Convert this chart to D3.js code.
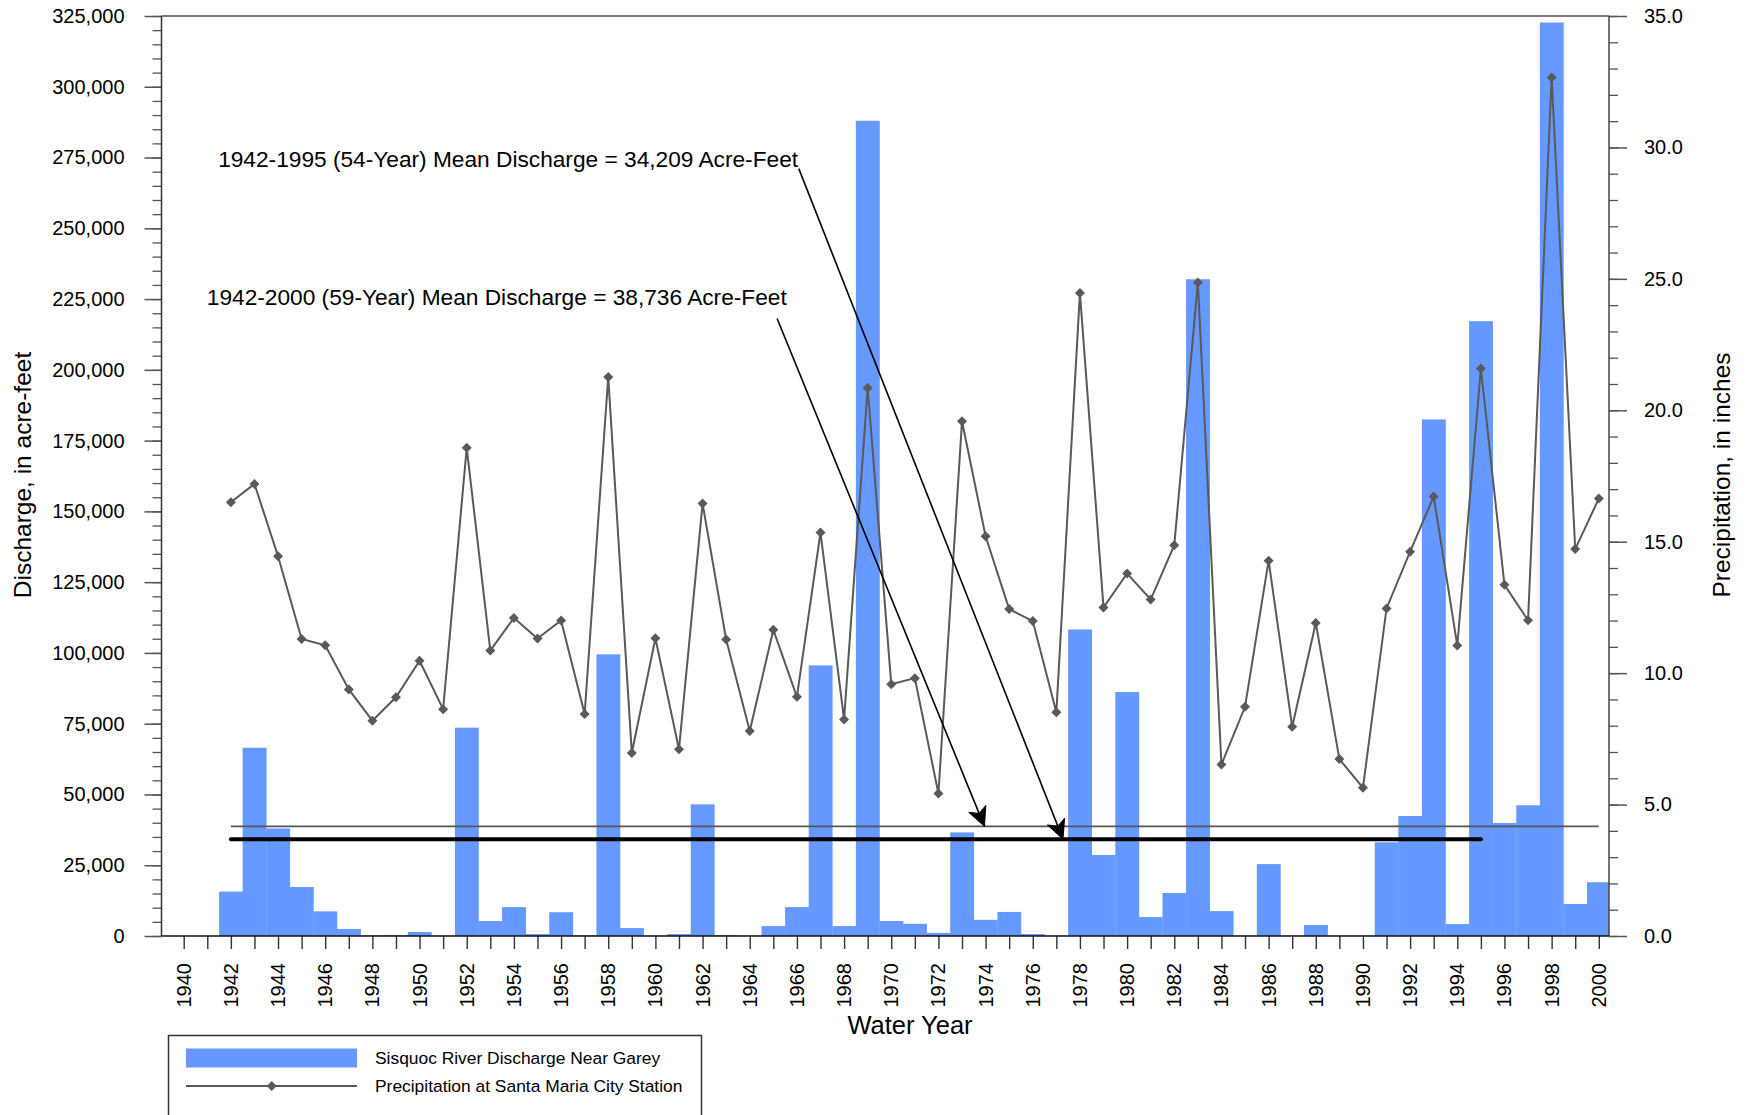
<!DOCTYPE html>
<html><head><meta charset="utf-8">
<script src="https://cdn.jsdelivr.net/npm/d3@7"></script>
<style>
body{margin:0;background:#fff}
svg{display:block}
text{font-family:"Liberation Sans",Arial,sans-serif;fill:#000}
</style>
</head><body>
<svg id="chart" width="1747" height="1115"></svg>
<script>
// ---------------- DATA ----------------
const years = [1942,1943,1944,1945,1946,1947,1948,1949,1950,1951,1952,1953,1954,1955,1956,1957,1958,1959,1960,1961,
  1962,1963,1964,1965,1966,1967,1968,1969,1970,1971,1972,1973,1974,1975,1976,1977,1978,1979,1980,1981,
  1982,1983,1984,1985,1986,1987,1988,1989,1990,1991,1992,1993,1994,1995,1996,1997,1998,1999,2000];
// Sisquoc River discharge near Garey (acre-feet)
const discharge = [15700,66500,38000,17300,8700,2500,200,300,1400,100,73600,5300,10200,700,8400,200,99500,2800,100,700,
  46500,300,100,3500,10200,95600,3500,288000,5300,4300,1100,36600,5700,8500,700,100,108300,28600,86200,6700,
  15200,232000,8800,100,25400,100,3900,100,100,33100,42400,182500,4200,217200,39900,46200,322700,11300,19000];
// Precipitation at Santa Maria City station (inches)
const precipitation = [16.5,17.2,14.45,11.3,11.06,9.38,8.19,9.08,10.47,8.63,18.57,10.86,12.1,11.32,12.0,8.45,21.27,6.96,11.33,7.1,
  16.45,11.28,7.8,11.65,9.1,15.35,8.24,20.85,9.58,9.81,5.42,19.58,15.21,12.44,11.98,8.51,24.46,12.5,13.79,12.8,
  14.87,24.86,6.52,8.72,14.28,7.96,11.91,6.73,5.64,12.46,14.62,16.72,11.05,21.59,13.36,12.01,32.66,14.72,16.64];
const yearTickValues = [1940,1941,1942,1943,1944,1945,1946,1947,1948,1949,1950,1951,1952,1953,1954,1955,1956,1957,1958,1959,
  1960,1961,1962,1963,1964,1965,1966,1967,1968,1969,1970,1971,1972,1973,1974,1975,1976,1977,1978,1979,
  1980,1981,1982,1983,1984,1985,1986,1987,1988,1989,1990,1991,1992,1993,1994,1995,1996,1997,1998,1999,2000];
const yearLabels = [1940,1942,1944,1946,1948,1950,1952,1954,1956,1958,1960,1962,1964,1966,1968,1970,1972,1974,1976,1978,
  1980,1982,1984,1986,1988,1990,1992,1994,1996,1998,2000];
const dischargeTicks = [0,25000,50000,75000,100000,125000,150000,175000,200000,225000,250000,275000,300000,325000];
const precipTicks = [0,5,10,15,20,25,30,35];
const meanLong = {value:38736, from:1942, to:2000};
const meanShort = {value:34209, from:1942, to:1995};
const annotationTexts = ["1942-1995 (54-Year) Mean Discharge = 34,209 Acre-Feet",
                         "1942-2000 (59-Year) Mean Discharge = 38,736 Acre-Feet"];
const legendLabels = ["Sisquoc River Discharge Near Garey","Precipitation at Santa Maria City Station"];

// ---------------- LAYOUT ----------------
const svg = d3.select("#chart");
const L = 161.5, R = 1609, T = 16, B = 936;
const x = d3.scaleLinear().domain([1940, 2000]).range([183.7, 1598.8]);
const yL = d3.scaleLinear().domain([0, 325000]).range([B, T]);
const yR = d3.scaleLinear().domain([0, 35]).range([B, T]);
const barColor = "#6699ff", lineColor = "#595959";

svg.append("defs").append("clipPath").attr("id","plotclip")
  .append("rect").attr("x",L).attr("y",T).attr("width",R-L).attr("height",B-T);

// bars
svg.append("g").attr("clip-path","url(#plotclip)")
  .selectAll("rect").data(years).join("rect")
  .attr("x", d => x(d - 0.5))
  .attr("width", d => x(d + 0.5) - x(d - 0.5) + 0.3)
  .attr("y", (d,i) => yL(discharge[i]))
  .attr("height", (d,i) => B - yL(discharge[i]))
  .attr("fill", barColor);

// mean lines
svg.append("line")
  .attr("x1", x(meanLong.from)).attr("x2", x(meanLong.to))
  .attr("y1", yL(meanLong.value)).attr("y2", yL(meanLong.value))
  .attr("stroke", "#555").attr("stroke-width", 1.6);
svg.append("line")
  .attr("x1", x(meanShort.from)).attr("x2", x(meanShort.to))
  .attr("y1", yL(meanShort.value)).attr("y2", yL(meanShort.value))
  .attr("stroke", "#000").attr("stroke-width", 4).attr("stroke-linecap","round");

// precipitation line
const line = d3.line().x((d,i) => x(years[i])).y(d => yR(d));
svg.append("path").datum(precipitation)
  .attr("d", line).attr("fill","none")
  .attr("stroke", lineColor).attr("stroke-width", 2);
const diamond = d3.symbol().type(d3.symbolSquare).size(50);
svg.append("g").selectAll("path").data(precipitation).join("path")
  .attr("d", diamond)
  .attr("transform", (d,i) => `translate(${x(years[i])},${yR(d)}) rotate(45)`)
  .attr("fill", lineColor);

// frame top
svg.append("line").attr("x1",L).attr("x2",R).attr("y1",T).attr("y2",T)
  .attr("stroke","#7a7a7a").attr("stroke-width",2);

// left axis
const gl = svg.append("g").attr("transform",`translate(${L},0)`);
gl.call(d3.axisLeft(yL).tickValues(d3.range(0, 325001, 5000)).tickSize(9).tickFormat(""));
gl.call(g => g.selectAll(".tick line").attr("stroke","#555").attr("stroke-width",1.3));
const gl2 = svg.append("g").attr("transform",`translate(${L},0)`);
gl2.call(d3.axisLeft(yL).tickValues(dischargeTicks).tickSize(17).tickPadding(20).tickFormat(d3.format(",")));
gl2.selectAll("text").attr("font-size",20).attr("font-family",'"Liberation Sans",Arial,sans-serif').attr("fill","#000");
gl2.selectAll(".tick line").attr("stroke","#555").attr("stroke-width",1.5);
gl.select(".domain").remove(); gl2.select(".domain").remove();
svg.append("line").attr("x1",L).attr("x2",L).attr("y1",T).attr("y2",B).attr("stroke","#333").attr("stroke-width",1.5);

// right axis
const gr = svg.append("g").attr("transform",`translate(${R},0)`);
gr.call(d3.axisRight(yR).tickValues(d3.range(0, 35.01, 1)).tickSize(9).tickFormat(""));
gr.selectAll(".tick line").attr("stroke","#555").attr("stroke-width",1.3);
const gr2 = svg.append("g").attr("transform",`translate(${R},0)`);
gr2.call(d3.axisRight(yR).tickValues(precipTicks).tickSize(18).tickPadding(17).tickFormat(d3.format(".1f")));
gr2.selectAll("text").attr("font-size",20).attr("font-family",'"Liberation Sans",Arial,sans-serif').attr("fill","#000");
gr2.selectAll(".tick line").attr("stroke","#555").attr("stroke-width",1.5);
gr.select(".domain").remove(); gr2.select(".domain").remove();
svg.append("line").attr("x1",R).attr("x2",R).attr("y1",T).attr("y2",B).attr("stroke","#444").attr("stroke-width",1.5);

// bottom axis
const gb = svg.append("g").attr("transform",`translate(0,${B})`);
gb.call(d3.axisBottom(x).tickValues(yearTickValues).tickSize(13).tickFormat(""));
gb.selectAll(".tick line").attr("stroke","#333").attr("stroke-width",1.4);
gb.select(".domain").remove();
svg.append("line").attr("x1",L).attr("x2",R).attr("y1",B).attr("y2",B).attr("stroke","#111").attr("stroke-width",1.6);
svg.append("g").selectAll("text").data(yearLabels).join("text")
  .attr("transform", d => `translate(${x(d)},963) rotate(-90)`)
  .attr("text-anchor","end").attr("dominant-baseline","central")
  .attr("font-size",20).text(d => d);

// axis titles
svg.append("text").attr("transform","translate(22,475) rotate(-90)")
  .attr("text-anchor","middle").attr("dominant-baseline","central")
  .attr("font-size",24.5).text("Discharge, in acre-feet");
svg.append("text").attr("transform","translate(1721,475) rotate(-90)")
  .attr("text-anchor","middle").attr("dominant-baseline","central")
  .attr("font-size",24.5).text("Precipitation, in inches");
svg.append("text").attr("x",910).attr("y",1034).attr("text-anchor","middle")
  .attr("font-size",25.5).text("Water Year");

// annotations (positions in data units: year / acre-feet)
const annotations = [
  {text: annotationTexts[0], tx: 1941.46, ty: 271700, sx: 1966.08, sy: 271085, ex: 1977.28, ey: meanShort.value},
  {text: annotationTexts[1], tx: 1940.98, ty: 222816, sx: 1965.16, sy: 218115, ex: 1973.95, ey: meanLong.value}
];
annotations.forEach(a => {
  svg.append("text").attr("x", x(a.tx)).attr("y", yL(a.ty)).attr("font-size",22.7).text(a.text);
  const x1 = x(a.sx), y1 = yL(a.sy), x2 = x(a.ex), y2 = yL(a.ey);
  svg.append("line").attr("x1",x1).attr("y1",y1).attr("x2",x2).attr("y2",y2)
    .attr("stroke","#000").attr("stroke-width",1.6);
  const ang = Math.atan2(y1 - y2, x1 - x2), len = 21, spread = 26 * Math.PI / 180, notch = 14;
  const p1 = [x2 + len*Math.cos(ang - spread), y2 + len*Math.sin(ang - spread)];
  const p2 = [x2 + len*Math.cos(ang + spread), y2 + len*Math.sin(ang + spread)];
  const pn = [x2 + notch*Math.cos(ang), y2 + notch*Math.sin(ang)];
  svg.append("path").attr("d", `M${x2},${y2} L${p1[0]},${p1[1]} L${pn[0]},${pn[1]} L${p2[0]},${p2[1]} Z`)
    .attr("fill","#000").attr("stroke","#000").attr("stroke-width",1).attr("stroke-linejoin","miter");
});

// legend
const lg = svg.append("g");
lg.append("rect").attr("x",168.5).attr("y",1035.5).attr("width",533).attr("height",90)
  .attr("fill","#fff").attr("stroke","#333").attr("stroke-width",1.5);
lg.append("rect").attr("x",186).attr("y",1048.5).attr("width",171).attr("height",19).attr("fill",barColor);
lg.append("line").attr("x1",186).attr("x2",357).attr("y1",1086).attr("y2",1086)
  .attr("stroke",lineColor).attr("stroke-width",2);
lg.append("path").attr("d", diamond).attr("transform","translate(271.7,1086) rotate(45)").attr("fill",lineColor);
lg.selectAll("text.lg").data(legendLabels).join("text").attr("class","lg")
  .attr("x",375).attr("y",(d,i) => i === 0 ? 1064 : 1092)
  .attr("font-size",17.4).text(d => d);
</script>
</body></html>
